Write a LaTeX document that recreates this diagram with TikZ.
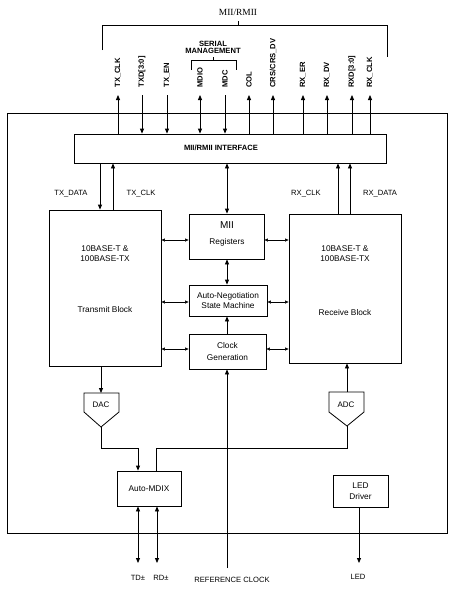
\documentclass[tikz,border=0pt]{standalone}
\usepackage{fontspec}
\setmainfont{Liberation Sans}
\newfontfamily\serifont{Liberation Serif}
\usetikzlibrary{arrows.meta}
\begin{document}
\begin{tikzpicture}[x=1pt,y=-1pt,
 line width=0.8pt,
 box/.style={draw, rectangle, inner sep=0pt},
 txt/.style={inner sep=0pt, font=\fontsize{8.3}{9}\selectfont},
 lbl/.style={inner sep=0pt, font=\fontsize{7.6}{8}\selectfont},
 blbl/.style={inner sep=0pt, font=\fontsize{7.6}{8}\selectfont\bfseries},
 sig/.style={blbl, rotate=90, anchor=west},
 arr/.style={-{Triangle[length=5pt,width=4pt]}},
 darr/.style={{Triangle[length=5pt,width=4pt]}-{Triangle[length=5pt,width=4pt]}},
 sarr/.style={{Triangle[length=3.5pt,width=3pt]}-{Triangle[length=3.5pt,width=3pt]}, line width=0.5pt},
]
\useasboundingbox (0,0) rectangle (454,590);

% outer chip
\node[box, minimum width=440pt, minimum height=420pt] (chip) at (227,323) {};

% MII/RMII interface
\node[box, minimum width=312pt, minimum height=29pt] (iface) at (230,148.5) {};
\node[blbl] (ifacet) at (221,147.5) {MII/RMII INTERFACE};

% top bracket
\node[inner sep=0pt, font=\serifont\fontsize{9.4}{10}\selectfont] (miit) at (238,12) {MII/RMII};
\coordinate (bl) at (102,50);
\coordinate (br) at (387,57);
\draw (bl) -- (102,25) -- (387,25) -- (br);
\draw (238,25) -- (238,21);

% serial management bracket
\node[blbl, align=center] (sert) at (213,47.5) {SERIAL\\[-1.3pt]MANAGEMENT};
\draw (191,70) -- (191,60) -- (236,60) -- (236,70);
\draw (213,60) -- (213,57);

% signal lines
\coordinate (sa) at (118,95); \node[sig] (la) at (118,88) {TX\_CLK};
\coordinate (sb) at (142,95); \node[sig] (lb) at (142,88) {TXD[3:0]};
\coordinate (sc) at (167,95); \node[sig] (lc) at (167,88) {TX\_EN};
\coordinate (sd) at (200,95); \node[sig] (ld) at (200,88) {MDIO};
\coordinate (se) at (225,95); \node[sig] (le) at (225,88) {MDC};
\coordinate (sf) at (249,95); \node[sig] (lf) at (249,88) {COL};
\coordinate (sg) at (273,95); \node[sig] (lg) at (273,88) {CRS/CRS\_DV};
\coordinate (sh) at (303,95); \node[sig] (lh) at (303,88) {RX\_ER};
\coordinate (si) at (327,95); \node[sig] (li) at (327,88) {RX\_DV};
\coordinate (sj) at (352,95); \node[sig] (lj) at (352,88) {RXD[3:0]};
\coordinate (sk) at (370,95); \node[sig] (lk) at (370,88) {RX\_CLK};

\draw[arr] (sa |- iface.north) -- (sa);
\draw[arr] (sb) -- (sb |- iface.north);
\draw[arr] (sc) -- (sc |- iface.north);
\draw[darr] (sd) -- (sd |- iface.north);
\draw[arr] (se) -- (se |- iface.north);
\draw[arr] (sf |- iface.north) -- (sf);
\draw[arr] (sg |- iface.north) -- (sg);
\draw[arr] (sh |- iface.north) -- (sh);
\draw[arr] (si |- iface.north) -- (si);
\draw[arr] (sj |- iface.north) -- (sj);
\draw[arr] (sk |- iface.north) -- (sk);

% blocks
\node[box, minimum width=112pt, minimum height=156pt] (tx) at (105,288) {};
\node[txt, align=center] (txt1) at (105,253.5) {10BASE-T \&\\[1.5pt]100BASE-TX};
\node[txt] (txt2) at (105,310) {Transmit Block};

\node[box, minimum width=112pt, minimum height=149pt] (rx) at (345,288.5) {};
\node[txt, align=center] (rxt1) at (345,253.5) {10BASE-T \&\\[1.5pt]100BASE-TX};
\node[txt] (rxt2) at (345,313) {Receive Block};

\node[box, minimum width=75pt, minimum height=45pt] (mii) at (226.5,236.5) {};
\node[inner sep=0pt, font=\fontsize{10}{11}\selectfont] (miit2) at (227,225) {MII};
\node[txt] (miit3) at (227,242) {Registers};

\node[box, minimum width=78pt, minimum height=31pt, txt, align=center] (an) at (228,300.5) {Auto-Negotiation\\[1.5pt]State Machine};
\node[box, minimum width=77pt, minimum height=35pt, txt, align=center] (clk) at (227.5,351.5) {Clock\\[2.5pt]Generation};

% TX/RX data & clk
\draw[arr] (iface.south -| 100,0) -- (tx.north -| 100,0);
\draw[arr] (tx.north -| 113,0) -- (iface.south -| 113,0);
\draw[arr] (rx.north -| 338,0) -- (iface.south -| 338,0);
\draw[arr] (rx.north -| 350,0) -- (iface.south -| 350,0);
\node[lbl] (ltxd) at (71,194) {TX\_DATA};
\node[lbl] (ltxc) at (141,194) {TX\_CLK};
\node[lbl] (lrxc) at (306,194) {RX\_CLK};
\node[lbl] (lrxd) at (380,194) {RX\_DATA};

% central column
\draw[darr] (iface.south -| 227,0) -- (mii.north -| 227,0);
\draw[darr] (mii.south -| 227,0) -- (an.north -| 227,0);
\draw[arr] (clk.north -| 227,0) -- (an.south -| 227,0);

% small side arrows
\draw[sarr] (tx.east |- 0,240) -- (mii.west |- 0,240);
\draw[sarr] (mii.east |- 0,240) -- (rx.west |- 0,240);
\draw[sarr] (tx.east |- 0,302) -- (an.west |- 0,302);
\draw[sarr] (an.east |- 0,302) -- (rx.west |- 0,302);
\draw[sarr] (tx.east |- 0,349) -- (clk.west |- 0,349);
\draw[sarr] (clk.east |- 0,349) -- (rx.west |- 0,349);

% DAC / ADC
\coordinate (dacT) at (101,393);
\coordinate (dacB) at (101,427);
\draw (84,393) -- (119,393) -- (119,412) -- (dacB) -- (84,412) -- cycle;
\node[inner sep=0pt, font=\fontsize{8}{9}\selectfont] (dac) at (101,405) {DAC};
\coordinate (adcT) at (347,392);
\coordinate (adcB) at (347,426);
\draw (329,392) -- (364,392) -- (364,412) -- (adcB) -- (329,412) -- cycle;
\node[inner sep=0pt, font=\fontsize{8}{9}\selectfont] (adc) at (346,405) {ADC};

\draw[arr] (tx.south -| dacT) -- (dacT);
\draw[arr] (adcT) -- (rx.south -| adcT);

% Auto-MDIX and LED
\node[box, minimum width=64pt, minimum height=35pt, txt] (mdix) at (149,488.5) {Auto-MDIX};
\node[box, minimum width=55pt, minimum height=32pt, txt, align=center] (led) at (360.5,491) {LED\\[1.5pt]Driver};

\draw[arr] (dacB) -- (101,448) -- (138,448) -- (mdix.north -| 138,0);
\draw (adcB) -- (347,448) -- (156,448) -- (mdix.north -| 156,0);

\coordinate (td) at (138,563);
\coordinate (rd) at (157,563);
\coordinate (ledo) at (359,563);
\draw[darr] (mdix.south -| td) -- (td);
\draw[darr] (mdix.south -| rd) -- (rd);
\draw[arr] (led.south -| ledo) -- (ledo);

\coordinate (rc) at (227,568);
\draw[arr] (rc) -- (clk.south -| rc);

\node[lbl] (ltd) at (138,578) {TD±};
\node[lbl] (lrd) at (161,578) {RD±};
\node[lbl] (lrc) at (232,580) {REFERENCE CLOCK};
\node[lbl] (lled) at (358,577) {LED};
\end{tikzpicture}
\end{document}
